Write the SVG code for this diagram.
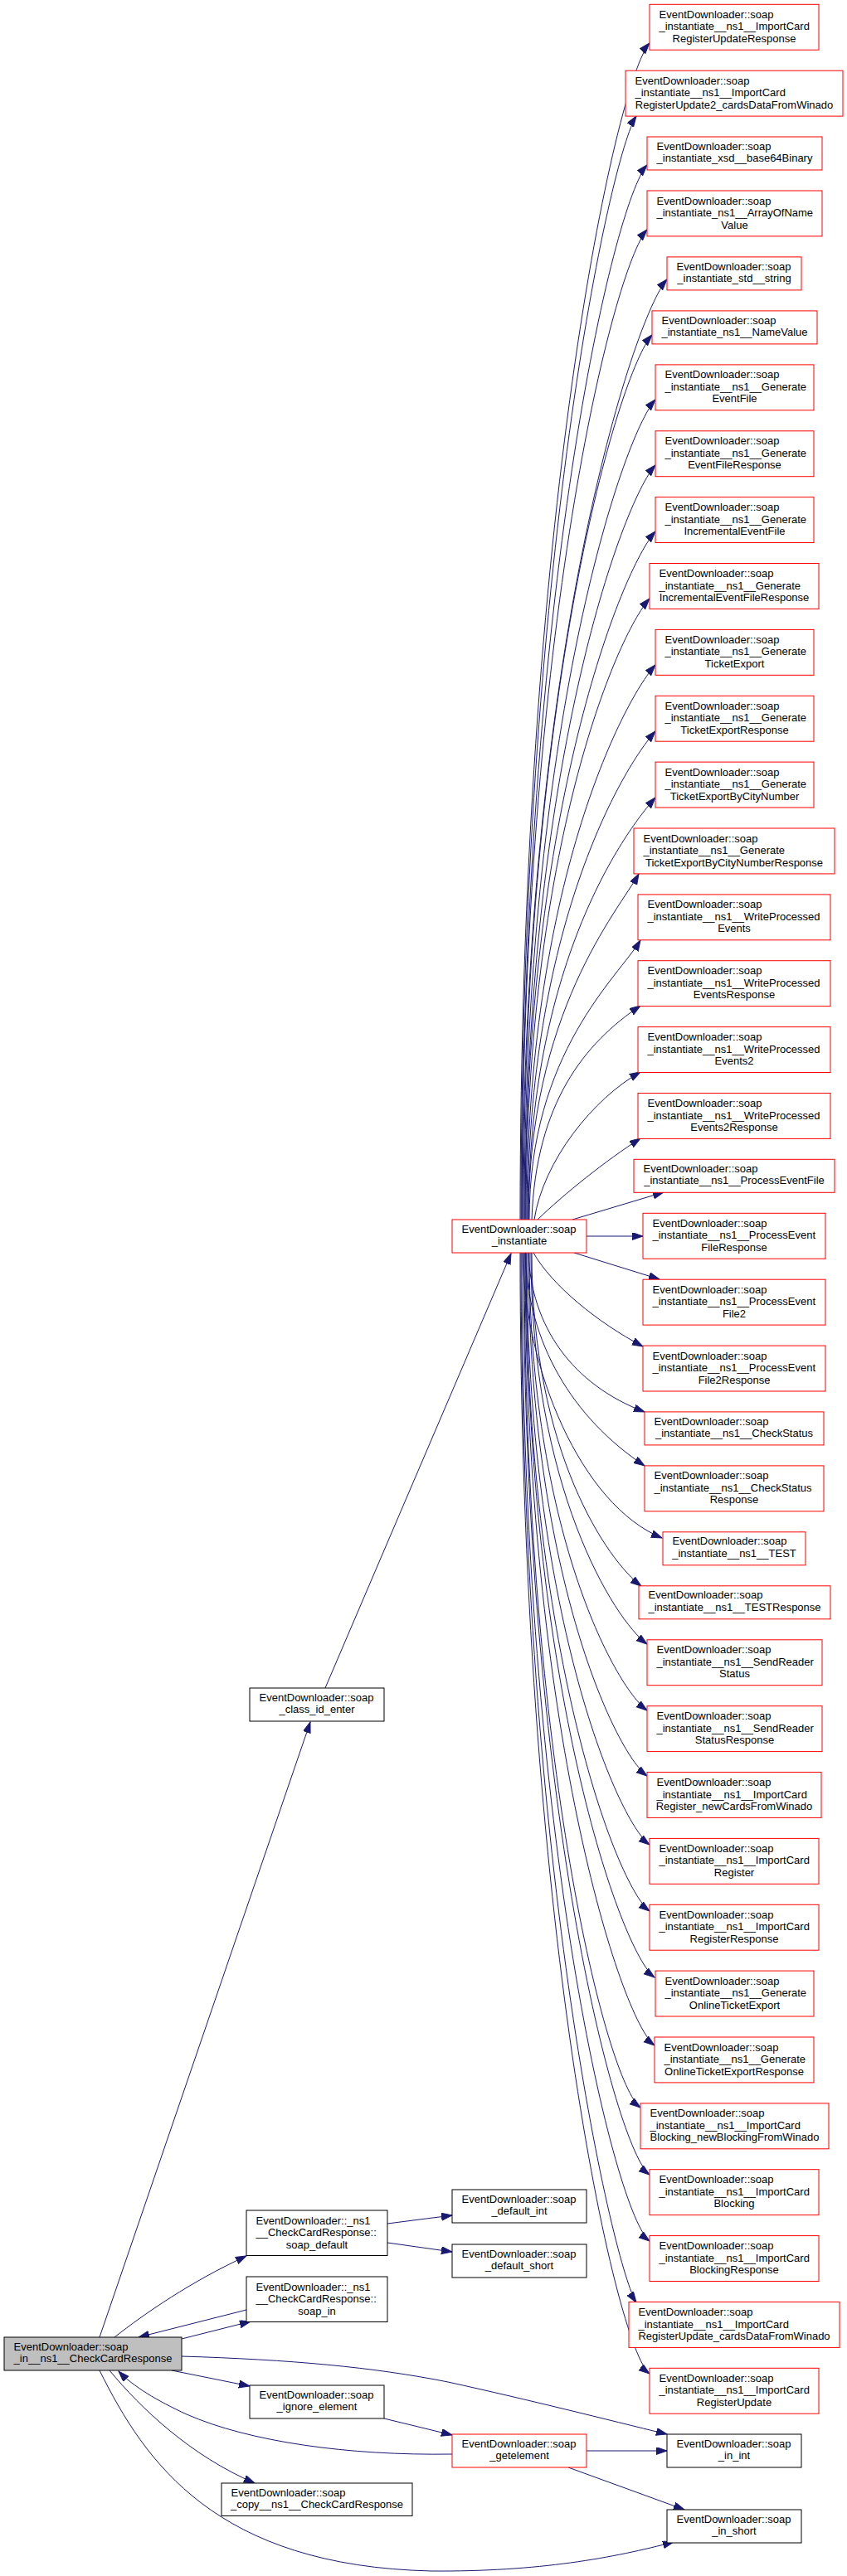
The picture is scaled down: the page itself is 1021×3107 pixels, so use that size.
<svg xmlns="http://www.w3.org/2000/svg" width="1021" height="3107" viewBox="0 0 1021 3107">
<defs>
<style>
.n rect{fill:#fff;stroke:#000;stroke-width:1}
.r rect{stroke:#ff0000}
.m rect{fill:#bfbfbf}
text{font-family:"Liberation Sans",Arial,Helvetica,sans-serif;font-size:13px;fill:#000}
.c{text-anchor:middle}
.e path{fill:none;stroke:#191970;stroke-width:1;marker-end:url(#ah)}
</style>
<marker id="ah" markerUnits="userSpaceOnUse" markerWidth="14" markerHeight="10" refX="13" refY="4.5" orient="auto">
<path d="M0,0 L13,4.5 L0,9 z" fill="#191970" stroke="#191970" stroke-width="1"/>
</marker>
</defs>
<rect width="1021" height="3107" fill="#fff"/>
<g id="edges" class="e">
<path d="M120,2819 L374,2077"/>
<path d="M392,2036 L616,1512"/>
<path d="M627,1471 C627,620 743,97 783,52"/>
<path d="M628,1471 C628,672 737,185 767,140"/>
<path d="M629,1471 C629,708 740,244 780,199"/>
<path d="M629,1471 C629,755 740,322 780,277"/>
<path d="M630,1471 C630,791 764,382 804,337"/>
<path d="M631,1471 C631,831 746,449 786,404"/>
<path d="M632,1471 C632,878 750,527 790,482"/>
<path d="M633,1471 C633,925 750,606 790,561"/>
<path d="M633,1471 C633,973 750,686 790,641"/>
<path d="M634,1471 C634,1022 743,767 783,722"/>
<path d="M635,1471 C635,1070 750,847 790,802"/>
<path d="M636,1471 C636,1118 750,927 790,882"/>
<path d="M637,1471 C637,1166 750,1007 790,962"/>
<path d="M637,1471 C637,1221 745,1099 770,1054"/>
<path d="M638,1471 C638,1269 745,1179 772,1134"/>
<path d="M641,1471 C646,1330 705,1258 772,1213"/>
<path d="M644,1471 C655,1400 715,1325 772,1293"/>
<path d="M648,1471 C680,1440 730,1400 772,1373"/>
<path d="M690,1471 L800,1438"/>
<path d="M707,1491 L775,1491"/>
<path d="M692,1511 L795,1543"/>
<path d="M643,1511 C665,1550 720,1595 775,1624"/>
<path d="M637,1511 C640,1600 690,1670 777,1703"/>
<path d="M633,1511 C636,1620 690,1710 777,1768"/>
<path d="M630,1511 C632,1650 700,1815 798,1855"/>
<path d="M641,1511 C641,1752 733,1883 773,1913"/>
<path d="M640,1511 C640,1794 740,1953 780,1983"/>
<path d="M638,1511 C638,1842 740,2033 780,2063"/>
<path d="M637,1511 C637,1890 740,2112 780,2142"/>
<path d="M635,1511 C635,1939 743,2195 783,2225"/>
<path d="M634,1511 C634,1987 743,2275 783,2305"/>
<path d="M634,1511 C634,2035 749,2355 789,2385"/>
<path d="M633,1511 C633,2085 749,2437 789,2467"/>
<path d="M632,1511 C632,2130 732,2512 772,2542"/>
<path d="M631,1511 C631,2178 743,2593 783,2623"/>
<path d="M629,1511 C629,2226 743,2673 783,2703"/>
<path d="M628,1511 C628,2271 742,2740 767,2777"/>
<path d="M627,1511 C627,2322 743,2833 783,2863"/>
<path d="M138,2819 C175,2790 230,2752 297,2721"/>
<path d="M297,2786 L167,2819"/>
<path d="M219,2821 L302,2800"/>
<path d="M219,2842 C350,2846 450,2855 540,2873 C640,2895 730,2918 804,2936"/>
<path d="M207,2859 L301,2878"/>
<path d="M545,2960 C420,2962 300,2945 225,2912 C190,2896 160,2878 143,2860"/>
<path d="M132,2859 C170,2905 230,2962 307,2995"/>
<path d="M120,2859 C175,2970 260,3095 520,3101 C650,3102 740,3085 812,3066"/>
<path d="M467,2682 L545,2672"/>
<path d="M467,2705 L545,2716"/>
<path d="M463,2917 L545,2937"/>
<path d="M707,2956 L804,2956"/>
<path d="M685,2976 L825,3027"/>
</g>
<g id="main" class="n m" transform="translate(5,2819)"><rect width="214" height="40"/><text x="11.5" y="15.7">EventDownloader::soap</text><text class="c" x="107" y="30.2">_in__ns1__CheckCardResponse</text></g>
<g id="instantiate" class="n r" transform="translate(545,1471)"><rect width="162" height="40"/><text x="11.5" y="15.7">EventDownloader::soap</text><text class="c" x="81" y="30.2">_instantiate</text></g>
<g id="class_id_enter" class="n" transform="translate(301,2036)"><rect width="162" height="40"/><text x="11.5" y="15.7">EventDownloader::soap</text><text class="c" x="81" y="30.2">_class_id_enter</text></g>
<g id="soap_default" class="n" transform="translate(297,2666)"><rect width="170" height="54.5"/><text x="11.5" y="16.5">EventDownloader::_ns1</text><text x="11.5" y="31">__CheckCardResponse::</text><text class="c" x="85" y="45.5">soap_default</text></g>
<g id="soap_in" class="n" transform="translate(297,2746)"><rect width="170" height="54.5"/><text x="11.5" y="16.5">EventDownloader::_ns1</text><text x="11.5" y="31">__CheckCardResponse::</text><text class="c" x="85" y="45.5">soap_in</text></g>
<g id="default_int" class="n" transform="translate(545,2641)"><rect width="162" height="40"/><text x="11.5" y="15.7">EventDownloader::soap</text><text class="c" x="81" y="30.2">_default_int</text></g>
<g id="default_short" class="n" transform="translate(545,2707)"><rect width="162" height="40"/><text x="11.5" y="15.7">EventDownloader::soap</text><text class="c" x="81" y="30.2">_default_short</text></g>
<g id="ignore_element" class="n" transform="translate(301,2877)"><rect width="162" height="40"/><text x="11.5" y="15.7">EventDownloader::soap</text><text class="c" x="81" y="30.2">_ignore_element</text></g>
<g id="copy" class="n" transform="translate(267,2995)"><rect width="230" height="39.5"/><text x="11.5" y="15.7">EventDownloader::soap</text><text class="c" x="115" y="30.2">_copy__ns1__CheckCardResponse</text></g>
<g id="getelement" class="n r" transform="translate(545,2936)"><rect width="162" height="40"/><text x="11.5" y="15.7">EventDownloader::soap</text><text class="c" x="81" y="30.2">_getelement</text></g>
<g id="in_int" class="n" transform="translate(804,2936)"><rect width="162" height="40"/><text x="11.5" y="15.7">EventDownloader::soap</text><text class="c" x="81" y="30.2">_in_int</text></g>
<g id="in_short" class="n" transform="translate(804,3027)"><rect width="162" height="40"/><text x="11.5" y="15.7">EventDownloader::soap</text><text class="c" x="81" y="30.2">_in_short</text></g>
<g id="r1" class="n r" transform="translate(783,5.3)"><rect width="204" height="54.9"/><text x="11.5" y="16.5">EventDownloader::soap</text><text x="11.5" y="31">_instantiate__ns1__ImportCard</text><text class="c" x="102" y="45.5">RegisterUpdateResponse</text></g>
<g id="r2" class="n r" transform="translate(754,85.2)"><rect width="262" height="54.9"/><text x="11.5" y="16.5">EventDownloader::soap</text><text x="11.5" y="31">_instantiate__ns1__ImportCard</text><text class="c" x="131" y="45.5">RegisterUpdate2_cardsDataFromWinado</text></g>
<g id="r3" class="n r" transform="translate(780,165)"><rect width="211" height="40"/><text x="11.5" y="15.7">EventDownloader::soap</text><text class="c" x="105.5" y="30.2">_instantiate_xsd__base64Binary</text></g>
<g id="r4" class="n r" transform="translate(780,230)"><rect width="211" height="54.9"/><text x="11.5" y="16.5">EventDownloader::soap</text><text x="11.5" y="31">_instantiate_ns1__ArrayOfName</text><text class="c" x="105.5" y="45.5">Value</text></g>
<g id="r5" class="n r" transform="translate(804,309.9)"><rect width="162" height="40"/><text x="11.5" y="15.7">EventDownloader::soap</text><text class="c" x="81" y="30.2">_instantiate_std__string</text></g>
<g id="r6" class="n r" transform="translate(786,374.9)"><rect width="199" height="40"/><text x="11.5" y="15.7">EventDownloader::soap</text><text class="c" x="99.5" y="30.2">_instantiate_ns1__NameValue</text></g>
<g id="r7" class="n r" transform="translate(790,439.9)"><rect width="191" height="54.9"/><text x="11.5" y="16.5">EventDownloader::soap</text><text x="11.5" y="31">_instantiate__ns1__Generate</text><text class="c" x="95.5" y="45.5">EventFile</text></g>
<g id="r8" class="n r" transform="translate(790,519.8)"><rect width="191" height="54.9"/><text x="11.5" y="16.5">EventDownloader::soap</text><text x="11.5" y="31">_instantiate__ns1__Generate</text><text class="c" x="95.5" y="45.5">EventFileResponse</text></g>
<g id="r9" class="n r" transform="translate(790,599.6)"><rect width="191" height="54.9"/><text x="11.5" y="16.5">EventDownloader::soap</text><text x="11.5" y="31">_instantiate__ns1__Generate</text><text class="c" x="95.5" y="45.5">IncrementalEventFile</text></g>
<g id="r10" class="n r" transform="translate(783,679.5)"><rect width="204" height="54.9"/><text x="11.5" y="16.5">EventDownloader::soap</text><text x="11.5" y="31">_instantiate__ns1__Generate</text><text class="c" x="102" y="45.5">IncrementalEventFileResponse</text></g>
<g id="r11" class="n r" transform="translate(790,759.4)"><rect width="191" height="54.9"/><text x="11.5" y="16.5">EventDownloader::soap</text><text x="11.5" y="31">_instantiate__ns1__Generate</text><text class="c" x="95.5" y="45.5">TicketExport</text></g>
<g id="r12" class="n r" transform="translate(790,839.3)"><rect width="191" height="54.9"/><text x="11.5" y="16.5">EventDownloader::soap</text><text x="11.5" y="31">_instantiate__ns1__Generate</text><text class="c" x="95.5" y="45.5">TicketExportResponse</text></g>
<g id="r13" class="n r" transform="translate(790,919.1)"><rect width="191" height="54.9"/><text x="11.5" y="16.5">EventDownloader::soap</text><text x="11.5" y="31">_instantiate__ns1__Generate</text><text class="c" x="95.5" y="45.5">TicketExportByCityNumber</text></g>
<g id="r14" class="n r" transform="translate(764,999)"><rect width="242" height="54.9"/><text x="11.5" y="16.5">EventDownloader::soap</text><text x="11.5" y="31">_instantiate__ns1__Generate</text><text class="c" x="121" y="45.5">TicketExportByCityNumberResponse</text></g>
<g id="r15" class="n r" transform="translate(769,1078.9)"><rect width="232" height="54.9"/><text x="11.5" y="16.5">EventDownloader::soap</text><text x="11.5" y="31">_instantiate__ns1__WriteProcessed</text><text class="c" x="116" y="45.5">Events</text></g>
<g id="r16" class="n r" transform="translate(769,1158.7)"><rect width="232" height="54.9"/><text x="11.5" y="16.5">EventDownloader::soap</text><text x="11.5" y="31">_instantiate__ns1__WriteProcessed</text><text class="c" x="116" y="45.5">EventsResponse</text></g>
<g id="r17" class="n r" transform="translate(769,1238.6)"><rect width="232" height="54.9"/><text x="11.5" y="16.5">EventDownloader::soap</text><text x="11.5" y="31">_instantiate__ns1__WriteProcessed</text><text class="c" x="116" y="45.5">Events2</text></g>
<g id="r18" class="n r" transform="translate(769,1318.5)"><rect width="232" height="54.9"/><text x="11.5" y="16.5">EventDownloader::soap</text><text x="11.5" y="31">_instantiate__ns1__WriteProcessed</text><text class="c" x="116" y="45.5">Events2Response</text></g>
<g id="r19" class="n r" transform="translate(764,1398.3)"><rect width="242" height="40"/><text x="11.5" y="15.7">EventDownloader::soap</text><text class="c" x="121" y="30.2">_instantiate__ns1__ProcessEventFile</text></g>
<g id="r20" class="n r" transform="translate(775,1463.3)"><rect width="220" height="54.9"/><text x="11.5" y="16.5">EventDownloader::soap</text><text x="11.5" y="31">_instantiate__ns1__ProcessEvent</text><text class="c" x="110" y="45.5">FileResponse</text></g>
<g id="r21" class="n r" transform="translate(775,1543.2)"><rect width="220" height="54.9"/><text x="11.5" y="16.5">EventDownloader::soap</text><text x="11.5" y="31">_instantiate__ns1__ProcessEvent</text><text class="c" x="110" y="45.5">File2</text></g>
<g id="r22" class="n r" transform="translate(775,1623.1)"><rect width="220" height="54.9"/><text x="11.5" y="16.5">EventDownloader::soap</text><text x="11.5" y="31">_instantiate__ns1__ProcessEvent</text><text class="c" x="110" y="45.5">File2Response</text></g>
<g id="r23" class="n r" transform="translate(777,1702.9)"><rect width="216" height="40"/><text x="11.5" y="15.7">EventDownloader::soap</text><text class="c" x="108" y="30.2">_instantiate__ns1__CheckStatus</text></g>
<g id="r24" class="n r" transform="translate(777,1767.9)"><rect width="216" height="54.9"/><text x="11.5" y="16.5">EventDownloader::soap</text><text x="11.5" y="31">_instantiate__ns1__CheckStatus</text><text class="c" x="108" y="45.5">Response</text></g>
<g id="r25" class="n r" transform="translate(799,1847.8)"><rect width="172" height="40"/><text x="11.5" y="15.7">EventDownloader::soap</text><text class="c" x="86" y="30.2">_instantiate__ns1__TEST</text></g>
<g id="r26" class="n r" transform="translate(770,1912.8)"><rect width="231" height="40"/><text x="11.5" y="15.7">EventDownloader::soap</text><text class="c" x="115.5" y="30.2">_instantiate__ns1__TESTResponse</text></g>
<g id="r27" class="n r" transform="translate(780,1977.8)"><rect width="211" height="54.9"/><text x="11.5" y="16.5">EventDownloader::soap</text><text x="11.5" y="31">_instantiate__ns1__SendReader</text><text class="c" x="105.5" y="45.5">Status</text></g>
<g id="r28" class="n r" transform="translate(780,2057.7)"><rect width="211" height="54.9"/><text x="11.5" y="16.5">EventDownloader::soap</text><text x="11.5" y="31">_instantiate__ns1__SendReader</text><text class="c" x="105.5" y="45.5">StatusResponse</text></g>
<g id="r29" class="n r" transform="translate(780,2137.5)"><rect width="210" height="54.9"/><text x="11.5" y="16.5">EventDownloader::soap</text><text x="11.5" y="31">_instantiate__ns1__ImportCard</text><text class="c" x="105" y="45.5">Register_newCardsFromWinado</text></g>
<g id="r30" class="n r" transform="translate(783,2217.4)"><rect width="204" height="54.9"/><text x="11.5" y="16.5">EventDownloader::soap</text><text x="11.5" y="31">_instantiate__ns1__ImportCard</text><text class="c" x="102" y="45.5">Register</text></g>
<g id="r31" class="n r" transform="translate(783,2297.3)"><rect width="204" height="54.9"/><text x="11.5" y="16.5">EventDownloader::soap</text><text x="11.5" y="31">_instantiate__ns1__ImportCard</text><text class="c" x="102" y="45.5">RegisterResponse</text></g>
<g id="r32" class="n r" transform="translate(790,2377.1)"><rect width="191" height="54.9"/><text x="11.5" y="16.5">EventDownloader::soap</text><text x="11.5" y="31">_instantiate__ns1__Generate</text><text class="c" x="95.5" y="45.5">OnlineTicketExport</text></g>
<g id="r33" class="n r" transform="translate(789,2457)"><rect width="192" height="54.9"/><text x="11.5" y="16.5">EventDownloader::soap</text><text x="11.5" y="31">_instantiate__ns1__Generate</text><text class="c" x="96" y="45.5">OnlineTicketExportResponse</text></g>
<g id="r34" class="n r" transform="translate(772,2536.9)"><rect width="227" height="54.9"/><text x="11.5" y="16.5">EventDownloader::soap</text><text x="11.5" y="31">_instantiate__ns1__ImportCard</text><text class="c" x="113.5" y="45.5">Blocking_newBlockingFromWinado</text></g>
<g id="r35" class="n r" transform="translate(783,2616.7)"><rect width="204" height="54.9"/><text x="11.5" y="16.5">EventDownloader::soap</text><text x="11.5" y="31">_instantiate__ns1__ImportCard</text><text class="c" x="102" y="45.5">Blocking</text></g>
<g id="r36" class="n r" transform="translate(783,2696.6)"><rect width="204" height="54.9"/><text x="11.5" y="16.5">EventDownloader::soap</text><text x="11.5" y="31">_instantiate__ns1__ImportCard</text><text class="c" x="102" y="45.5">BlockingResponse</text></g>
<g id="r37" class="n r" transform="translate(758,2776.5)"><rect width="254" height="54.9"/><text x="11.5" y="16.5">EventDownloader::soap</text><text x="11.5" y="31">_instantiate__ns1__ImportCard</text><text class="c" x="127" y="45.5">RegisterUpdate_cardsDataFromWinado</text></g>
<g id="r38" class="n r" transform="translate(783,2856.3)"><rect width="204" height="54.9"/><text x="11.5" y="16.5">EventDownloader::soap</text><text x="11.5" y="31">_instantiate__ns1__ImportCard</text><text class="c" x="102" y="45.5">RegisterUpdate</text></g>
</svg>
